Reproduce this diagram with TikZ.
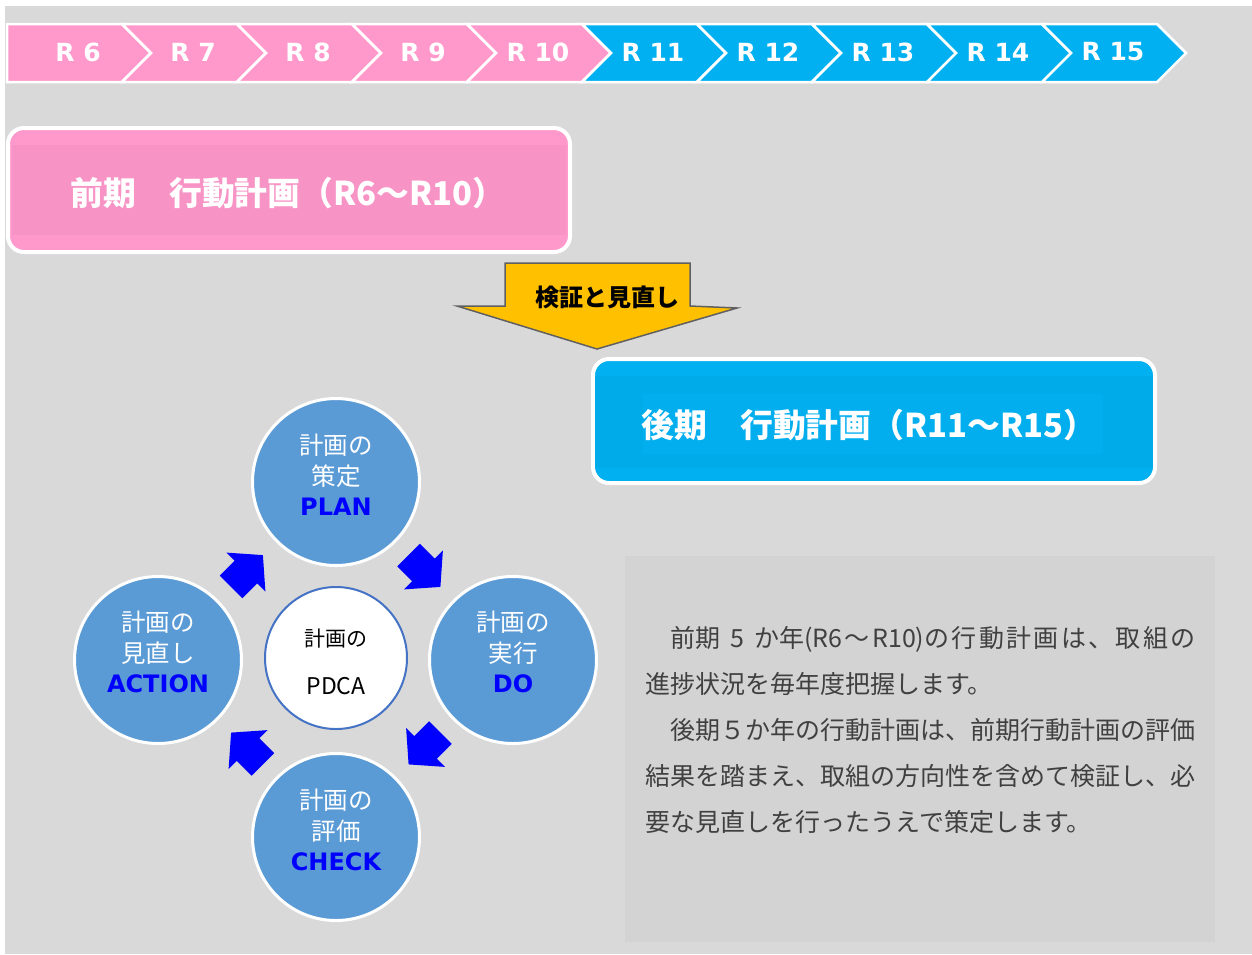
\documentclass[tikz,border=0pt]{standalone}
\usepackage{fontspec}
\newfontfamily\jp{Noto Sans CJK JP}
\newfontfamily\dv{DejaVu Sans}
\usetikzlibrary{calc}
\newcommand\setfs[1]{\fontsize{#1pt}{#1pt}\selectfont}
\definecolor{bgc}{HTML}{D9D9D9}
\definecolor{pinkc}{HTML}{FF99CC}
\definecolor{pinkd}{HTML}{F794C5}
\definecolor{bluec}{HTML}{00B0F0}
\definecolor{blued}{HTML}{00ABEA}
\definecolor{bluehl}{HTML}{02AEEE}
\definecolor{circc}{HTML}{5B9BD5}
\definecolor{ringc}{HTML}{4472C4}
\definecolor{yelc}{HTML}{FFC000}
\definecolor{yeledge}{HTML}{606060}
\definecolor{txtc}{HTML}{404040}
\definecolor{boxc}{HTML}{D3D3D3}
\newcommand\blockarr[3]{%
  \fill[blue, shift={($(#1)!0.5!(#2)$)}, rotate=#3]
    (-22.5,-16) -- (-1.5,-16) -- (-1.5,-27.5) -- (22.5,0) -- (-1.5,27.5) -- (-1.5,16) -- (-22.5,16) -- cycle;}
\begin{document}
\begin{tikzpicture}[x=1pt,y=-1pt,
  chev/.style={draw=white, line width=2.5pt, line join=miter},
  chevtext/.style={text=white, font=\dv\bfseries\setfs{25}, inner sep=0pt},
  headbox/.style={draw=white, line width=4pt, rounded corners=16pt, minimum width=562pt, minimum height=124pt},
  head/.style={text=white, font=\jp\bfseries\setfs{32.8}, inner sep=0pt},
  pdca/.style={circle, fill=circc, draw=white, line width=3pt, minimum size=167pt, inner sep=0pt},
  wtext/.style={text=white, font=\jp\setfs{24.5}, inner sep=0pt},
  btext/.style={text=blue, font=\dv\bfseries\setfs{24}, inner sep=0pt},
  ktext/.style={text=black, font=\jp\setfs{21}, inner sep=0pt},
  body/.style={text=txtc, font=\jp\setfs{25}, inner sep=0pt, anchor=base west}]
\useasboundingbox (0,0) rectangle (1252,954);
\fill[white] (0,0) rectangle (1252,954);
\fill[bgc] (5,6) rectangle (1252,954);
% timeline chevrons
\foreach \k in {0,...,9}{
  \pgfmathsetmacro\xa{7+115*\k}
  \pgfmathtruncatemacro\yr{6+\k}
  \ifnum\k<5 \def\cc{pinkc}\else\def\cc{bluec}\fi
  \ifnum\k=0
    \draw[chev, fill=\cc] (\xa,24) -- ++(115,0) -- ++(29,29) -- ++(-29,29) -- ++(-115,0) -- cycle;
  \else
    \draw[chev, fill=\cc] (\xa,24) -- ++(115,0) -- ++(29,29) -- ++(-29,29) -- ++(-115,0) -- ++(29,-29) -- cycle;
  \fi
  \node[chevtext] (r\yr) at (\xa+71,52) {R \yr};
}
% early plan box
\node[headbox, fill=pinkc] (early) at (289,190) {};
\fill[pinkd] (12,145) rectangle (566,235);
\node[head] (earlyT) at (288,193) {前期　行動計画（R6～R10）};
% yellow arrow
\draw[fill=yelc, draw=yeledge, line width=1.5pt, line join=miter]
  (505,263) -- (690,263) -- (690,306) -- (737,308) -- (597,349) -- (457,306) -- (505,306) -- cycle;
\node[text=black, font=\jp\bfseries\setfs{24}, inner sep=0pt] (review) at (607,297) {検証と見直し};
% later plan box
\node[headbox, fill=bluec] (late) at (874,421) {};
\fill[blued] (595,376) rectangle (1153,468);
\fill[bluehl] (643,394) rectangle (1103,454);
\node[head] (lateT) at (869,425) {後期　行動計画（R11～R15）};
% PDCA cycle
\node[pdca] (plan) at (336,482) {};
\node[pdca] (do) at (513,660) {};
\node[pdca] (check) at (336,837) {};
\node[pdca] (act) at (158,660) {};
\node[circle, fill=white, draw=ringc, line width=2pt, minimum size=142pt, inner sep=0pt] (core) at (336,658) {};
\blockarr{act}{plan}{45}
\blockarr{plan}{do}{-45}
\blockarr{do}{check}{-135}
\blockarr{check}{act}{135}
\node[wtext] (planA) at ($(plan)+(0,-37)$) {計画の};
\node[wtext] (planB) at ($(plan)+(0,-6)$) {策定};
\node[btext] (planC) at ($(plan)+(0,25)$) {PLAN};
\node[wtext] (doA) at ($(do)+(0,-38)$) {計画の};
\node[wtext] (doB) at ($(do)+(0,-7)$) {実行};
\node[btext] (doC) at ($(do)+(0,24)$) {DO};
\node[wtext] (checkA) at ($(check)+(0,-37)$) {計画の};
\node[wtext] (checkB) at ($(check)+(0,-6)$) {評価};
\node[btext] (checkC) at ($(check)+(0,25)$) {CHECK};
\node[wtext] (actA) at ($(act)+(0,-38)$) {計画の};
\node[wtext] (actB) at ($(act)+(0,-7)$) {見直し};
\node[btext] (actC) at ($(act)+(0,24)$) {ACTION};
\node[ktext] (coreA) at ($(core)+(0,-19)$) {計画の};
\node[ktext, font=\jp\setfs{23}] (coreB) at ($(core)+(0,28)$) {PDCA};
% explanation box
\fill[boxc] (625,556) rectangle (1215,942);
\node[body] (l1) at (645,647.5) {　前期\hspace{10pt}5\hspace{10pt}か年(R6\hspace{2.5pt}～\hspace{2.5pt}R10){\addfontfeature{LetterSpace=9.5}の行動計画は、取組の}};
\node[body] (l2) at (645,693.5) {進捗状況を毎年度把握します。};
\node[body] (l3) at (645,739.5) {　後期５か年の行動計画は、前期行動計画の評価};
\node[body] (l4) at (645,785.5) {結果を踏まえ、取組の方向性を含めて検証し、必};
\node[body] (l5) at (645,831.5) {要な見直しを行ったうえで策定します。};
\end{tikzpicture}
\end{document}
